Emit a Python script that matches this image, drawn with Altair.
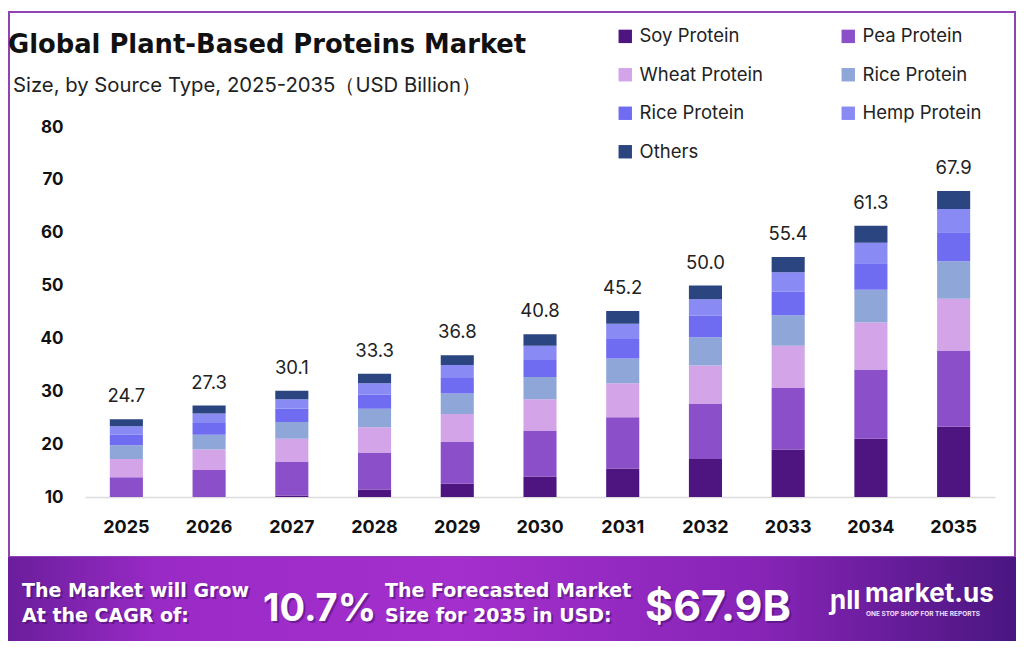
import altair as alt
import pandas as pd

years = ["2025", "2026", "2027", "2028", "2029", "2030", "2031", "2032", "2033", "2034", "2035"]
# stacking order (bottom to top)
series = ["Soy Protein", "Pea Protein", "Wheat Protein", "Rice Protein", "Rice Protein (2)", "Hemp Protein", "Others"]
series_colors = ["#4e1480", "#8b4fc9", "#d3a5e8", "#8fa6d9", "#6f6cf2", "#8a8af5", "#2b4580"]
# legend order (filled column by column)
legend_order = ["Soy Protein", "Wheat Protein", "Rice Protein (2)", "Others", "Pea Protein", "Rice Protein", "Hemp Protein"]

soy = [8.5, 9.4, 10.3, 11.4, 12.5, 13.9, 15.4, 17.2, 19.0, 21.0, 23.3]
pea = [5.25, 5.7, 6.4, 7.0, 7.9, 8.7, 9.7, 10.5, 11.6, 13.1, 14.4]
wheat = [3.45, 3.9, 4.3, 4.8, 5.3, 5.9, 6.4, 7.2, 8.0, 8.9, 9.8]
rice = [2.6, 2.8, 3.2, 3.5, 3.9, 4.2, 4.7, 5.3, 5.8, 6.2, 7.1]
rice2 = [2.0, 2.2, 2.5, 2.7, 2.9, 3.2, 3.7, 4.1, 4.5, 5.0, 5.5]
hemp = [1.6, 1.8, 1.8, 2.1, 2.45, 2.7, 2.9, 3.1, 3.6, 3.9, 4.4]
others = [1.3, 1.5, 1.6, 1.8, 1.85, 2.2, 2.4, 2.6, 2.9, 3.2, 3.4]
totals = [24.7, 27.3, 30.1, 33.3, 36.8, 40.8, 45.2, 50.0, 55.4, 61.3, 67.9]
y_ticks = [10, 20, 30, 40, 50, 60, 70, 80]

FONT = "Inter"
WIDE = "DejaVu Sans"

color_of = dict(zip(series, series_colors))
legend_colors = [color_of[s] for s in legend_order]

values = [soy, pea, wheat, rice, rice2, hemp, others]
rows = []
for j, (name, vals) in enumerate(zip(series, values)):
    for i, y in enumerate(years):
        rows.append({"year": y, "series": name, "value": vals[i], "idx": j})
df = pd.DataFrame(rows)
df_tot = pd.DataFrame({"year": years, "total": totals})
one = pd.DataFrame({"a": [0]})

xscale = alt.Scale(domain=years, paddingInner=0.6, paddingOuter=0.3)
yscale = alt.Scale(domain=[10, 80], nice=False, zero=False)

bars = alt.Chart(df).mark_bar(clip=True).encode(
    x=alt.X("year:N", scale=xscale, sort=years,
            axis=alt.Axis(title=None, labelAngle=0, labelFont=FONT, labelFontSize=18,
                          labelFontWeight="bold", labelColor="#111", labelPadding=21,
                          ticks=False, domainColor="#dcdcdc", domainWidth=1.5)),
    y=alt.Y("value:Q", stack="zero", scale=yscale,
            axis=alt.Axis(title=None, values=y_ticks, labelFont=FONT, labelFontSize=17,
                          labelFontWeight="bold", labelColor="#111", labelPadding=22,
                          ticks=False, domain=False, grid=False)),
    color=alt.Color("series:N", scale=alt.Scale(domain=legend_order, range=legend_colors),
                    legend=alt.Legend(title=None, orient="none", legendX=531, legendY=-100,
                                      columns=2, symbolType="square", symbolSize=180,
                                      symbolStrokeWidth=0, labelFont=FONT, labelFontSize=18.5,
                                      labelColor="#222", labelOffset=5, columnPadding=76,
                                      rowPadding=19.5, padding=0, labelLimit=300,
                                      labelExpr="datum.label == 'Rice Protein (2)' ? 'Rice Protein' : datum.label")),
    order=alt.Order("idx:Q", sort="ascending"),
)

tot_text = alt.Chart(df_tot).mark_text(font=FONT, fontSize=18.5, color="#222", baseline="alphabetic", dy=-17).encode(
    x=alt.X("year:N", scale=xscale, sort=years),
    y=alt.Y("total:Q", scale=yscale),
    text=alt.Text("total:Q", format=".1f"),
)

frame = alt.Chart(one).mark_rect(filled=False, stroke="#8e44b5", strokeWidth=2).encode(
    x=alt.value(-76), x2=alt.value(930), y=alt.value(-115), y2=alt.value(430)
)

banner = alt.Chart(one).mark_rect(
    fill={"gradient": "linear", "x1": 0, "x2": 1, "y1": 0, "y2": 0,
          "stops": [{"offset": 0, "color": "#6a1e9c"},
                    {"offset": 0.15, "color": "#9a2ac6"},
                    {"offset": 0.45, "color": "#a42fcc"},
                    {"offset": 0.75, "color": "#8624b6"},
                    {"offset": 1, "color": "#4a1680"}]}
).encode(x=alt.value(-77), x2=alt.value(931), y=alt.value(430), y2=alt.value(514))


def txt(s, x, y, size, weight="normal", color="#111", font=FONT, **kw):
    return alt.Chart(one).mark_text(text=s, align="left", baseline="alphabetic", font=font,
                                    fontSize=size, fontWeight=weight, color=color, **kw).encode(
        x=alt.value(x), y=alt.value(y))


title = txt("Global Plant-Based Proteins Market", -77, -74, 25.8, "bold", "#111", font=WIDE)
subtitle = txt("Size, by Source Type, 2025-2035（USD Billion）", -72, -35, 20.3, "normal", "#222")

shadow = "#3a0a5a"
b_texts = []
for s, x, y, size, fnt in [
    ("The Market will Grow", -63, 470, 19, WIDE),
    ("At the CAGR of:", -63, 495, 19, WIDE),
    ("10.7%", 178, 494, 38, FONT),
    ("The Forecasted Market", 300, 470, 19, WIDE),
    ("Size for 2035 in USD:", 300, 495, 19, WIDE),
    ("$67.9B", 560, 494, 43, FONT),
]:
    b_texts.append(txt(s, x + 2, y + 2, size, "bold", shadow, font=fnt, opacity=0.45))
    b_texts.append(txt(s, x, y, size, "bold", "#ffffff", font=fnt))

logo_icon = txt("ɲll", 745, 482, 26, "bold", "#ffffff")
logo = txt("market.us", 780, 475, 26, "bold", "#ffffff")
tagline = txt("ONE STOP SHOP FOR THE REPORTS", 781, 489, 6.5, "bold", "#f0e0ff")

chart = alt.layer(
    frame, banner, bars, tot_text, title, subtitle, *b_texts, logo_icon, logo, tagline
).properties(
    width=910, height=370, autosize="none",
    padding={"left": 77, "top": 119, "right": 21, "bottom": 150},
    background="#ffffff",
).configure_view(stroke=None)

chart.save("out.html", embed_options={"renderer": "svg", "actions": False})
